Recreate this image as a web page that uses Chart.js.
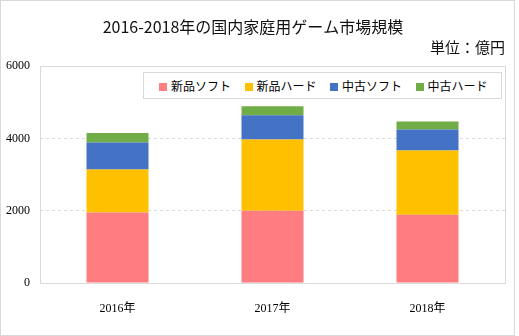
<!DOCTYPE html>
<html lang="ja">
  <head>
    <meta charset="UTF-8" />
    <title>国内家庭用ゲーム市場規模</title>
    <script src="https://cdn.jsdelivr.net/npm/chart.js"></script>
    <style>
      body { margin: 0; background: #fff; }
      #frame {
        position: absolute; left: 0; top: 0;
        width: 515px; height: 336px;
        border: 1px solid #d9d9d9; box-sizing: border-box;
      }
      #legend {
        position: absolute; left: 143px; top: 72px;
        width: 359px; height: 27px; box-sizing: border-box;
        border: 1px solid #d9d9d9; background: #fff;
        display: flex; align-items: center; padding-left: 15px;
        font: 12px "Noto Sans CJK JP", sans-serif; color: #000;
        white-space: nowrap;
      }
      #legend .item { display: flex; align-items: center; width: 88px; }
      #legend .box { width: 8px; height: 8px; margin: 3px 4px 0 0; }
    </style>
  </head>
  <body>
    <div id="frame">
      <canvas id="myChart" width="513" height="334"></canvas>
    </div>
    <div id="legend"></div>

    <script>
      // データ（億円）
      var years = ["2016年", "2017年", "2018年"];
      var newSoft = [1950, 2000, 1890];
      var newHard = [1190, 1970, 1780];
      var usedSoft = [750, 670, 580];
      var usedHard = [260, 250, 220];
      var yTicks = [0, 2000, 4000, 6000];

      var seriesNames = ["新品ソフト", "新品ハード", "中古ソフト", "中古ハード"];
      var seriesColors = ["#ff7c80", "#ffc000", "#4472c4", "#70ad47"];
      var seriesData = [newSoft, newHard, usedSoft, usedHard];

      var datasets = seriesNames.map(function (name, i) {
        return {
          label: name,
          data: seriesData[i],
          backgroundColor: seriesColors[i],
          borderWidth: 0,
          barPercentage: 0.4,
          categoryPercentage: 1,
        };
      });

      // プロットエリアの枠
      var frameLine = {
        id: "frameLine",
        beforeDatasetsDraw: function (chart) {
          var a = chart.chartArea;
          var c = chart.ctx;
          c.save();
          c.strokeStyle = "#d9d9d9";
          c.lineWidth = 1;
          c.strokeRect(Math.round(a.left) + 0.5, Math.round(a.top) + 0.5,
            Math.round(a.right - a.left), Math.round(a.bottom - a.top));
          c.restore();
        },
      };

      var ctx = document.getElementById("myChart").getContext("2d");
      var chart = new Chart(ctx, {
        type: "bar",
        data: { labels: years, datasets: datasets },
        plugins: [frameLine],
        options: {
          responsive: false,
          animation: false,
          layout: { padding: { left: 0, right: 9, top: 0, bottom: 0 } },
          plugins: {
            legend: { display: false },
            tooltip: { enabled: false },
            title: {
              display: true,
              text: "2016-2018年の国内家庭用ゲーム市場規模",
              color: "#111",
              font: { family: "'Noto Sans CJK JP', sans-serif", size: 16, weight: "normal" },
              padding: { top: 16, bottom: 0 },
            },
            subtitle: {
              display: true,
              text: "単位：億円",
              align: "end",
              color: "#111",
              font: { family: "'Noto Sans CJK JP', sans-serif", size: 15 },
              padding: { top: 2, bottom: 10 },
            },
          },
          scales: {
            x: {
              stacked: true,
              grid: { display: false },
              border: { display: false },
              ticks: {
                color: "#000",
                padding: 11,
                font: { family: "'Liberation Serif', 'Noto Sans CJK JP', serif", size: 12 },
              },
              afterFit: function (s) { s.height = 52; },
            },
            y: {
              stacked: true,
              min: 0,
              max: 6000,
              afterBuildTicks: function (s) {
                s.ticks = yTicks.map(function (v) { return { value: v }; });
              },
              grid: {
                drawTicks: false,
                color: function (c) {
                  return c.tick && c.tick.value > 0 && c.tick.value < 6000 ? "#d9d9d9" : "rgba(0,0,0,0)";
                },
              },
              border: { display: false, dash: [3, 3] },
              ticks: {
                color: "#000",
                padding: 10,
                font: { family: "'Liberation Serif', serif", size: 12 },
                callback: function (v) { return String(v); },
              },
              afterFit: function (s) { s.width = 39; },
            },
          },
        },
      });

      // 凡例
      var legend = document.getElementById("legend");
      datasets.forEach(function (d) {
        var item = document.createElement("div");
        item.className = "item";
        var box = document.createElement("span");
        box.className = "box";
        box.style.background = d.backgroundColor;
        var label = document.createElement("span");
        label.textContent = d.label;
        item.appendChild(box);
        item.appendChild(label);
        legend.appendChild(item);
      });
    </script>
  </body>
</html>
